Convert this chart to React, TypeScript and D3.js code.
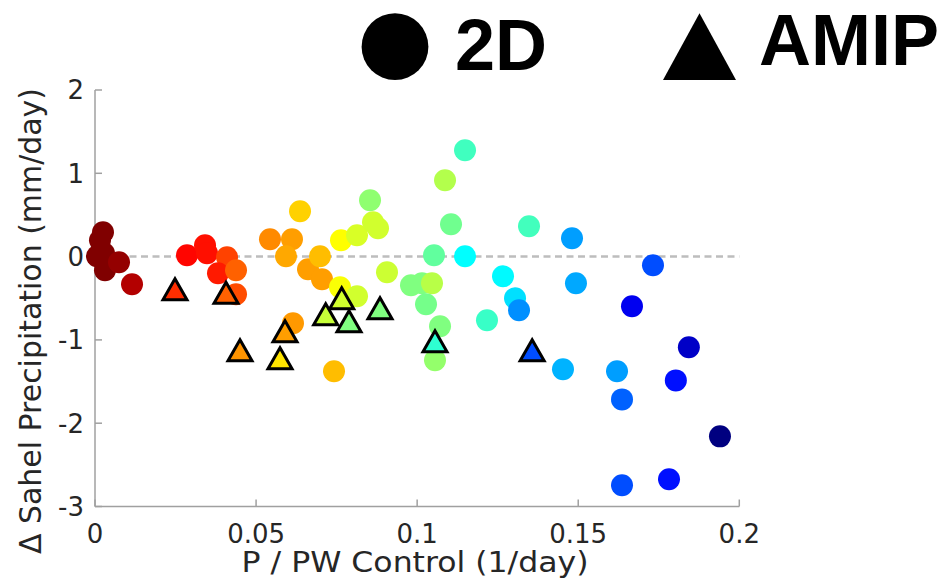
import React from "react";
import * as d3 from "d3";

// 2D model runs: control P/PW, change in Sahel precipitation, colour index (0 = navy … 1 = maroon)
const runX = [
  0.00248, 0.00155, 0.00062, 0.00279, 0.00372, 0.0031, 0.00745, 0.01149,
  0.02856, 0.03415, 0.03477, 0.04098, 0.03818, 0.04377, 0.04377,
  0.05432, 0.06115, 0.05929, 0.06364, 0.06612, 0.07046, 0.06984, 0.06146, 0.07419,
  0.07636, 0.08133, 0.0863, 0.08785, 0.08537, 0.09064, 0.07605, 0.08133,
  0.09809, 0.1015, 0.10461, 0.10275, 0.1071, 0.10554, 0.10523, 0.11486,
  0.10865, 0.11486, 0.11051, 0.12168, 0.12665, 0.13038, 0.13162, 0.13472,
  0.14807, 0.1493, 0.14527, 0.16204, 0.16359, 0.16359, 0.17818, 0.17321,
  0.16669, 0.1803, 0.18434, 0.194,
];
const runY = [
  0.292, 0.196, 0.004, 0.04, -0.068, -0.164, -0.068, -0.333,
  0.016, 0.136, 0.04, -0.008, -0.2, -0.164, -0.453,
  0.208, 0.208, 0.004, 0.544, -0.152, -0.273, 0.004, -0.8, -1.377,
  0.196, 0.256, 0.412, 0.34, 0.676, -0.188, -0.369, -0.477,
  -0.345, -0.321, -0.321, -0.573, -0.837, -1.245, 0.016, 0.004,
  0.916, 1.276, 0.388, -0.765, -0.236, -0.501, -0.645, 0.364,
  0.22, -0.321, -1.353, -1.377, -1.714, -2.746, -2.674, -0.104,
  -0.597, -1.486, -1.089, -2.158,
];
const runShade = [
  1, 1, 1, 1, 1, 1, 0.98, 0.95,
  0.87, 0.86, 0.86, 0.81, 0.85, 0.78, 0.8,
  0.74, 0.72, 0.71, 0.67, 0.72, 0.72, 0.69, 0.725, 0.69,
  0.625, 0.5875, 0.58, 0.58, 0.515, 0.575, 0.62, 0.58,
  0.5, 0.5, 0.555, 0.49, 0.5, 0.52, 0.47, 0.375,
  0.55, 0.4375, 0.485, 0.43, 0.37, 0.345, 0.265, 0.44,
  0.28, 0.29, 0.3, 0.28, 0.22, 0.2, 0.14, 0.2,
  0.11, 0.14, 0.07, 0,
];

// AMIP runs
const amipX = [0.02483, 0.04067, 0.04501, 0.05898, 0.05743, 0.07658, 0.07161, 0.07885, 0.08847, 0.10554, 0.1357];
const amipY = [-0.393, -0.435, -1.125, -0.897, -1.221, -0.501, -0.693, -0.777, -0.621, -1.017, -1.125];
const amipShade = [0.83, 0.78, 0.73, 0.72, 0.65, 0.58, 0.57, 0.5, 0.5, 0.42, 0.2];

const xTicks = [0, 0.05, 0.1, 0.15, 0.2];
const yTicks = [-3, -2, -1, 0, 1, 2];

// MATLAB-style jet colormap
function jet(t: number): string {
  const c = (v: number) => Math.max(0, Math.min(1, v));
  const r = c(1.5 - Math.abs(4 * t - 3));
  const g = c(1.5 - Math.abs(4 * t - 2));
  const b = c(1.5 - Math.abs(4 * t - 1));
  return d3.rgb(r * 255, g * 255, b * 255).formatHex();
}

const W = 947;
const H = 583;

export default function App() {
  const x = d3.scaleLinear().domain([0, 0.2]).range([95, 739.3]);
  const y = d3.scaleLinear().domain([-3, 2]).range([506.5, 90]);
  const axisColor = "#a0a0a0";
  const textColor = "#262626";
  const font = "'DejaVu Sans', sans-serif";

  const tri = "M0,-10.5 L12,10.5 L-12,10.5 Z";

  const runs = runX.map((v, i) => ({ x: v, y: runY[i], s: runShade[i] }));
  const amip = amipX.map((v, i) => ({ x: v, y: amipY[i], s: amipShade[i] }));

  return (
    <svg
      width={W}
      height={H}
      style={{ position: "absolute", left: 0, top: 0, background: "#fff" }}
    >
      <rect width={W} height={H} fill="#fff" />

      {/* zero reference line */}
      <line
        x1={x(0)}
        x2={x(0.2)}
        y1={y(0)}
        y2={y(0)}
        stroke="#bdbdbd"
        strokeWidth={2.5}
        strokeDasharray="7,4.5"
      />

      {/* axes */}
      <line x1={x(0)} x2={x(0)} y1={y(2)} y2={y(-3)} stroke={axisColor} strokeWidth={1.5} />
      <line x1={x(0)} x2={x(0.2)} y1={y(-3)} y2={y(-3)} stroke={axisColor} strokeWidth={1.5} />
      {xTicks.map((t) => (
        <g key={"xt" + t}>
          <line x1={x(t)} x2={x(t)} y1={y(-3)} y2={y(-3) - 7} stroke={axisColor} strokeWidth={1.5} />
          <text
            x={x(t)}
            y={543}
            textAnchor="middle"
            fontFamily={font}
            fontSize={26}
            fill={textColor}
          >
            {String(t)}
          </text>
        </g>
      ))}
      {yTicks.map((t) => (
        <g key={"yt" + t}>
          <line x1={x(0)} x2={x(0) + 7} y1={y(t)} y2={y(t)} stroke={axisColor} strokeWidth={1.5} />
          <text
            x={84}
            y={y(t)}
            dy="0.36em"
            textAnchor="end"
            fontFamily={font}
            fontSize={26}
            fill={textColor}
          >
            {t < 0 ? "-" + Math.abs(t) : String(t)}
          </text>
        </g>
      ))}

      {/* axis titles */}
      <text
        x={415}
        y={572}
        textAnchor="middle"
        fontFamily={font}
        fontSize={29}
        fill={textColor}
        textLength={347}
        lengthAdjust="spacingAndGlyphs"
      >
        P / PW Control (1/day)
      </text>
      <text
        transform="translate(41,321) rotate(-90)"
        textAnchor="middle"
        fontFamily={font}
        fontSize={30}
        fill={textColor}
        textLength={466}
        lengthAdjust="spacingAndGlyphs"
      >
        Δ Sahel Precipitation (mm/day)
      </text>

      {/* 2D runs */}
      {runs.map((d, i) => (
        <circle key={"r" + i} cx={x(d.x)} cy={y(d.y)} r={11} fill={jet(d.s)} />
      ))}

      {/* AMIP runs */}
      {amip.map((d, i) => (
        <path
          key={"a" + i}
          d={tri}
          transform={`translate(${x(d.x)},${y(d.y)})`}
          fill={jet(d.s)}
          stroke="#000"
          strokeWidth={3}
          strokeLinejoin="miter"
        />
      ))}

      {/* legend */}
      <circle cx={395} cy={46.7} r={33.4} fill="#000" />
      <text x={455} y={70} fontFamily="'Liberation Sans', Arial, sans-serif" fontWeight="bold" fontSize={72} fill="#000">
        2D
      </text>
      <path d="M699.5,13.3 L736,80 L663,80 Z" fill="#000" />
      <text x={759} y={65} fontFamily="'Liberation Sans', Arial, sans-serif" fontWeight="bold" fontSize={72} fill="#000">
        AMIP
      </text>
    </svg>
  );
}
